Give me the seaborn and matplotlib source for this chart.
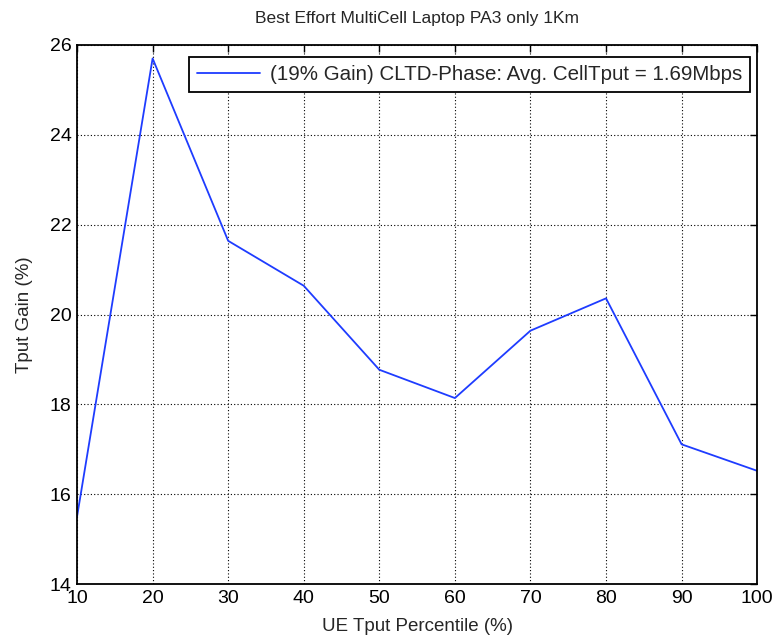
import matplotlib
matplotlib.use("Agg")
import matplotlib.pyplot as plt
import seaborn as sns
import pandas as pd

percentiles = [10, 20, 30, 40, 50, 60, 70, 80, 90, 100]
gain = [15.5, 25.70, 21.64, 20.64, 18.77, 18.14, 19.64, 20.36, 17.11, 16.52]
label = "(19% Gain) CLTD-Phase: Avg. CellTput = 1.69Mbps"
xticks = [10, 20, 30, 40, 50, 60, 70, 80, 90, 100]
yticks = [14, 16, 18, 20, 22, 24, 26]

sns.set_style("white")
plt.rcParams['font.family'] = ['Liberation Sans', 'DejaVu Sans']

df = pd.DataFrame({"p": percentiles, "g": gain})

fig = plt.figure(figsize=(7.75, 6.38), dpi=100)
ax = fig.add_axes([0.0994, 0.0846, 0.8776, 0.8449])
sns.lineplot(data=df, x="p", y="g", ax=ax, color="#1e3cff", linewidth=1.3, label=label)

ax.set_xlim(10, 100)
ax.set_ylim(14, 26)
ax.set_xticks(xticks)
ax.set_yticks(yticks)
ax.tick_params(direction="in", length=5, width=1, labelsize=14, top=True, right=True, colors="black", pad=4)
ax.grid(True, linestyle=(0, (1, 2)), color="black", linewidth=0.8)
for s in ax.spines.values():
    s.set_color("black")
    s.set_linewidth(1.3)
ax.set_xlabel("UE Tput Percentile (%)", fontsize=13.5, labelpad=8)
ax.set_ylabel("Tput Gain (%)", fontsize=13.5, labelpad=12)
ax.set_title("Best Effort MultiCell Laptop PA3 only 1Km", fontsize=12.5, pad=16)
leg = ax.legend(loc="upper right", bbox_to_anchor=(0.9897, 0.9777), borderaxespad=0,
                fontsize=14.8, fancybox=False, framealpha=1, edgecolor="black",
                handlelength=3.1, handletextpad=0.45, borderpad=0.4)
leg.get_frame().set_linewidth(1.3)
fig.savefig("out.png", dpi=100)
